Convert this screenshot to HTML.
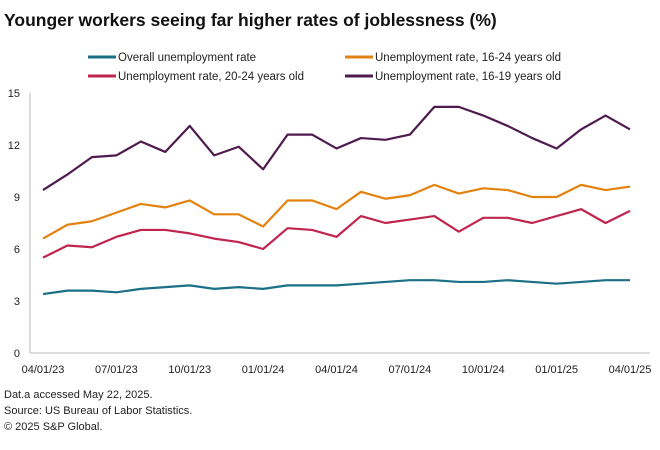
<!DOCTYPE html>
<html><head><meta charset="utf-8"><style>
body{margin:0;background:#fff;font-family:"Liberation Sans",sans-serif;}
svg text{font-family:"Liberation Sans",sans-serif;}
</style></head><body>
<svg id="chart" width="660" height="445">
<text x="4" y="26" font-size="17.5" font-weight="bold" fill="#111">Younger workers seeing far higher rates of joblessness (%)</text>
<g id="legend"></g>
<g id="axes"></g>
<g id="series"></g>
<text x="4" y="398" font-size="11" fill="#222">Dat.a accessed May 22, 2025.</text>
<text x="4" y="414" font-size="11" fill="#222">Source: US Bureau of Labor Statistics.</text>
<text x="4" y="430" font-size="11" fill="#222">© 2025 S&amp;P Global.</text>
</svg>
<script>
const months = 25;
const xTickLabels = ["04/01/23","07/01/23","10/01/23","01/01/24","04/01/24","07/01/24","10/01/24","01/01/25","04/01/25"];
const yTicks = [0,3,6,9,12,15];
const overall = [3.4,3.6,3.6,3.5,3.7,3.8,3.9,3.7,3.8,3.7,3.9,3.9,3.9,4.0,4.1,4.2,4.2,4.1,4.1,4.2,4.1,4.0,4.1,4.2,4.2];
const age2024 = [5.5,6.2,6.1,6.7,7.1,7.1,6.9,6.6,6.4,6.0,7.2,7.1,6.7,7.9,7.5,7.7,7.9,7.0,7.8,7.8,7.5,7.9,8.3,7.5,8.2];
const age1624 = [6.6,7.4,7.6,8.1,8.6,8.4,8.8,8.0,8.0,7.3,8.8,8.8,8.3,9.3,8.9,9.1,9.7,9.2,9.5,9.4,9.0,9.0,9.7,9.4,9.6];
const age1619 = [9.4,10.3,11.3,11.4,12.2,11.6,13.1,11.4,11.9,10.6,12.6,12.6,11.8,12.4,12.3,12.6,14.2,14.2,13.7,13.1,12.4,11.8,12.9,13.7,12.9];
const seriesNames = ["Overall unemployment rate","Unemployment rate, 16-24 years old","Unemployment rate, 20-24 years old","Unemployment rate, 16-19 years old"];

const NS="http://www.w3.org/2000/svg";
const X0=43,X1=630,Y0=353,Y1=93;
const xs=i=>X0+(X1-X0)*i/(months-1);
const ys=v=>Y0-(Y0-Y1)*v/15;
function mk(tag,attrs,parent){const e=document.createElementNS(NS,tag);for(const k in attrs)e.setAttribute(k,attrs[k]);parent.appendChild(e);return e;}
const axes=document.getElementById('axes');
let l=mk('line',{x1:30,y1:Y1,x2:30,y2:Y0,stroke:'#bbb','stroke-width':1},axes);


l=mk('line',{x1:30,y1:Y0,x2:650,y2:Y0,stroke:'#bbb','stroke-width':1},axes);


yTicks.forEach(v=>{const t=mk('text',{x:20,y:ys(v)+4,'font-size':11,'text-anchor':'end',fill:'#222'},axes);t.textContent=v;

});
xTickLabels.forEach((s,i)=>{const t=mk('text',{x:xs(i*3),y:373,'font-size':11,'text-anchor':'middle',fill:'#222'},axes);t.textContent=s;

});
const sg=document.getElementById('series');
const data=[overall,age1624,age2024,age1619];
const colors=['#1b6f86','#e3820f','#c0254f','#4e1b4f'];
const keys=['series-overall','series-16-24','series-20-24','series-16-19'];
data.forEach((d,k)=>{const p=mk('polyline',{points:d.map((v,i)=>xs(i)+','+ys(v)).join(' '),fill:'none',stroke:colors[k],'stroke-width':2.2,'stroke-linejoin':'round'},sg);

});
const lg=document.getElementById('legend');
const pos=[[88,57],[345,57],[88,76],[345,76]];
seriesNames.forEach((n,k)=>{const g=mk('g',{},lg);


mk('line',{x1:pos[k][0],y1:pos[k][1],x2:pos[k][0]+28,y2:pos[k][1],stroke:colors[k],'stroke-width':3},g);
const t=mk('text',{x:pos[k][0]+30,y:pos[k][1]+4,'font-size':11.5,fill:'#222'},g);t.textContent=n;});
</script>
</body></html>
